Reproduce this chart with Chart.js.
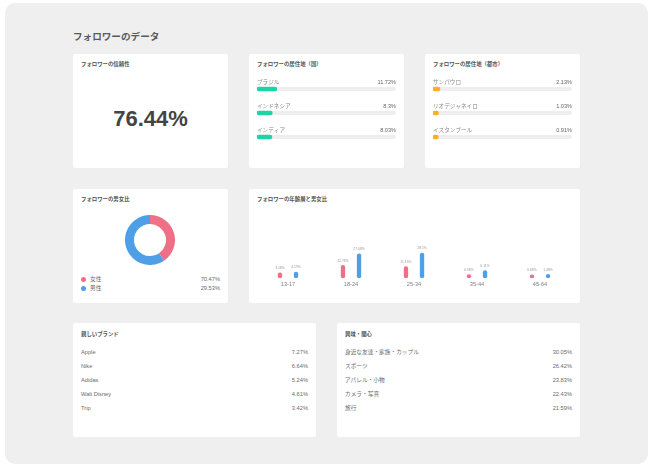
<!DOCTYPE html>
<html lang="ja">
<head>
<meta charset="utf-8">
<script src="https://cdn.jsdelivr.net/npm/chart.js@4.4.1/dist/chart.umd.min.js"></script>
<style>
  body { margin: 0; width: 650px; height: 467px; background: #fff; overflow: hidden;
         font-family: "Liberation Sans", "Noto Sans CJK JP", sans-serif; position: relative; }
  .wrap { position: absolute; left: 5px; top: 3px; width: 643px; height: 461px; background: #efefef; border-radius: 10px; }
  .card { position: absolute; background: #fff; border-radius: 2px; }
  .t { position: absolute; white-space: nowrap; line-height: 1; transform: translateY(-50%); }
  canvas { position: absolute; }
</style>
</head>
<body>
<div class="wrap"></div>
<div class="card" style="left:73px;top:54px;width:155px;height:114px"></div>
<div class="card" style="left:249px;top:54px;width:155px;height:114px"></div>
<div class="card" style="left:425px;top:54px;width:155px;height:114px"></div>
<div class="card" style="left:73px;top:189px;width:155px;height:114px"></div>
<div class="card" style="left:249px;top:189px;width:331px;height:114px"></div>
<div class="card" style="left:73px;top:323px;width:243px;height:114px"></div>
<div class="card" style="left:337px;top:323px;width:243px;height:114px"></div>

<canvas id="countryChart" width="139" height="72" style="left:257px;top:77px"></canvas>
<canvas id="cityChart" width="139" height="72" style="left:433px;top:77px"></canvas>
<canvas id="genderChart" width="50" height="50" style="left:125px;top:215px"></canvas>
<canvas id="ageChart" width="331" height="95" style="left:249px;top:205px"></canvas>

<script>
const reliability = 76.44;

const countryNames = ['ブラジル', 'インドネシア', 'インディア'];
const countryShares = [11.72, 8.3, 8.03];

const cityNames = ['サンパウロ', 'リオデジャネイロ', 'イスタンブール'];
const cityShares = [2.13, 1.03, 0.91];

const genderNames = ['女性', '男性'];
const genderShares = [70.47, 29.53];   // printed in the legend
const genderRing = [40.5, 59.5];       // split of the ring as drawn

const ageGroups = ['13-17', '18-24', '25-34', '35-44', '45-64'];
const femaleByAge = [3.18, 12.78, 11.15, 0.98, 0.68];
const maleByAge = [4.19, 27.08, 28.1, 6.11, 1.48];

const brandNames = ['Apple', 'Nike', 'Adidas', 'Walt Disney', 'Trip'];
const brandShares = [7.27, 6.64, 5.24, 4.61, 3.42];

const interestNames = ['身近な友達・家族・カップル', 'スポーツ', 'アパレル・小物', 'カメラ・写真', '旅行'];
const interestShares = [30.05, 26.42, 23.83, 22.43, 21.59];

const PINK = '#ef6f86';
const BLUE = '#4f9fe6';
const TEAL = '#1fd3a6';
const ORANGE = '#ffad2a';
const FONT = "'Liberation Sans', 'Noto Sans CJK JP', sans-serif";

Chart.defaults.font.family = FONT;
Chart.defaults.animation = false;

// place a text label, y is the vertical centre
function text(x, y, s, css, alignRight) {
  const d = document.createElement('div');
  d.className = 't';
  d.textContent = s;
  if (alignRight) d.style.right = (650 - x) + 'px';
  else d.style.left = x + 'px';
  d.style.top = y + 'px';
  d.style.cssText += css;
  document.body.appendChild(d);
}

const titleCss = 'font-size:5.4px;font-weight:bold;color:#555;font-family:"Noto Sans CJK JP",sans-serif;';
const rowCss = 'font-size:5.7px;color:#6a6a6a;';

text(73, 37, 'フォロワーのデータ', 'font-size:9.6px;font-weight:bold;color:#5a5a5a;font-family:"Noto Sans CJK JP",sans-serif;');
text(81, 65, 'フォロワーの信頼性', titleCss);
text(257, 65, 'フォロワーの居住地（国）', titleCss);
text(433, 65, 'フォロワーの居住地（都市）', titleCss);
text(81, 200, 'フォロワーの男女比', titleCss);
text(257, 200, 'フォロワーの年齢層と男女比', titleCss);
text(81, 335, '親しいブランド', titleCss);
text(345, 335, '興味・関心', titleCss);

// big number
const big = document.createElement('div');
big.className = 't';
big.textContent = reliability + '%';
big.style.cssText += 'left:73px;width:155px;text-align:center;top:119px;font-size:22px;font-weight:bold;color:#444;';
document.body.appendChild(big);

// donut legend
genderNames.forEach((n, i) => {
  const y = 279.5 + i * 9.3;
  const dot = document.createElement('div');
  dot.style.cssText = 'position:absolute;width:5px;height:5px;border-radius:50%;left:81px;top:' + (y - 2.5) + 'px;background:' + (i === 0 ? PINK : BLUE);
  document.body.appendChild(dot);
  text(90, y, n, rowCss);
  text(220, y, genderShares[i] + '%', rowCss, true);
});

// lists
brandNames.forEach((n, i) => {
  const y = 352.7 + i * 14.1;
  text(81, y, n, rowCss);
  text(308, y, brandShares[i] + '%', rowCss, true);
});
interestNames.forEach((n, i) => {
  const y = 352.7 + i * 14.1;
  text(345, y, n, rowCss);
  text(572, y, interestShares[i] + '%', rowCss, true);
});

// grey track + labels for the progress bars
const trackPlugin = {
  id: 'track',
  beforeDatasetsDraw(chart) {
    const { ctx, chartArea } = chart;
    ctx.save();
    ctx.fillStyle = '#eeeeee';
    chart.getDatasetMeta(0).data.forEach(bar => {
      ctx.beginPath();
      ctx.roundRect(chartArea.left, bar.y - 2, chartArea.right - chartArea.left, 4, 2);
      ctx.fill();
    });
    ctx.restore();
  },
  afterDatasetsDraw(chart) {
    const { ctx, chartArea } = chart;
    const values = chart.data.datasets[0].data;
    ctx.save();
    ctx.font = '5.6px ' + FONT;
    ctx.textBaseline = 'middle';
    chart.getDatasetMeta(0).data.forEach((bar, i) => {
      ctx.fillStyle = '#888';
      ctx.textAlign = 'left';
      ctx.fillText(chart.data.labels[i], chartArea.left, bar.y - 6.6);
      ctx.fillStyle = '#666';
      ctx.textAlign = 'right';
      ctx.fillText(values[i] + '%', chartArea.right, bar.y - 6.6);
    });
    ctx.restore();
  }
};

function progressChart(id, labels, values, color) {
  new Chart(document.getElementById(id), {
    type: 'bar',
    data: {
      labels: labels,
      datasets: [{
        data: values,
        backgroundColor: color,
        base: -3,
        barThickness: 4,
        borderRadius: 2,
        borderSkipped: false
      }]
    },
    options: {
      indexAxis: 'y',
      responsive: false,
      layout: { padding: 0 },
      plugins: { legend: { display: false }, tooltip: { enabled: false } },
      scales: {
        x: { display: false, min: -3, max: 100 },
        y: { display: false }
      }
    },
    plugins: [trackPlugin]
  });
}

progressChart('countryChart', countryNames, countryShares, TEAL);
progressChart('cityChart', cityNames, cityShares, ORANGE);

new Chart(document.getElementById('genderChart'), {
  type: 'doughnut',
  data: {
    labels: genderNames,
    datasets: [{
      data: genderRing,
      backgroundColor: [PINK, BLUE],
      borderWidth: 0
    }]
  },
  options: {
    responsive: false,
    cutout: '64%',
    plugins: { legend: { display: false }, tooltip: { enabled: false } }
  }
});

// small value labels above each bar
const barLabels = {
  id: 'barLabels',
  afterDatasetsDraw(chart) {
    const { ctx } = chart;
    ctx.save();
    ctx.font = '3.4px ' + FONT;
    ctx.fillStyle = '#999';
    ctx.textAlign = 'center';
    ctx.textBaseline = 'bottom';
    chart.data.datasets.forEach((ds, di) => {
      chart.getDatasetMeta(di).data.forEach((bar, i) => {
        ctx.fillText(ds.data[i] + '%', bar.x, bar.y - 2.5);
      });
    });
    ctx.restore();
  }
};

new Chart(document.getElementById('ageChart'), {
  type: 'bar',
  data: {
    labels: ageGroups,
    datasets: [
      { label: '女性', data: femaleByAge, backgroundColor: PINK },
      { label: '男性', data: maleByAge, backgroundColor: BLUE }
    ]
  },
  options: {
    responsive: false,
    layout: { padding: { left: 7.5, right: 8.5, top: 0, bottom: 9 } },
    datasets: {
      bar: {
        base: -4,
        categoryPercentage: 0.51,
        barPercentage: 0.27,
        borderRadius: 2,
        borderSkipped: false
      }
    },
    plugins: { legend: { display: false }, tooltip: { enabled: false } },
    scales: {
      x: {
        grid: { display: false, drawTicks: false },
        border: { display: false },
        ticks: { padding: 3, color: '#808080', font: { size: 5.6 } }
      },
      y: { display: false, min: -4, max: 88 }
    }
  },
  plugins: [barLabels]
});
</script>
</body>
</html>
